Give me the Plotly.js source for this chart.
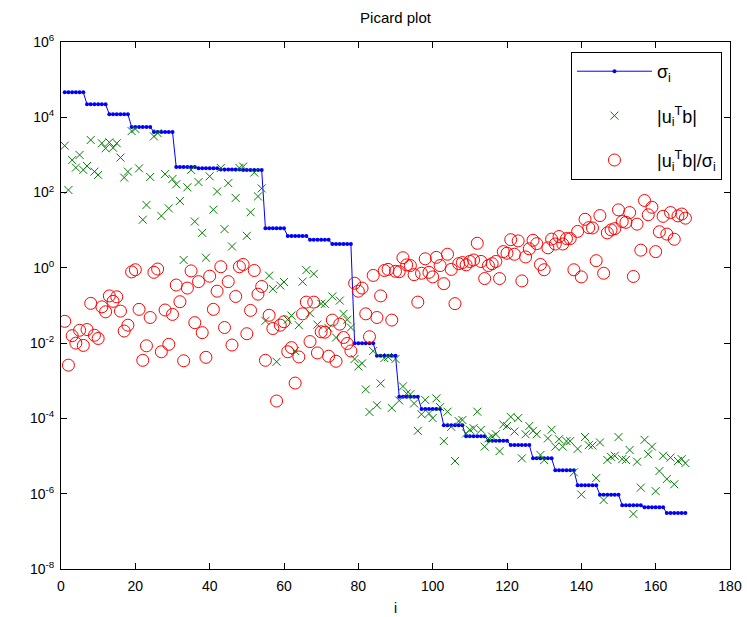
<!DOCTYPE html>
<html>
<head>
<meta charset="utf-8">
<script src="https://cdn.plot.ly/plotly-3.0.1.min.js"></script>
<style>html,body{margin:0;padding:0;background:#fff;}#chart{width:747px;height:617px;}</style>
</head>
<body>
<div id="chart"></div>
<script>
// singular values sigma_i
const sigma = [
4.61e4,4.61e4,4.61e4,4.61e4,4.61e4,4.61e4,
2.21e4,2.21e4,2.21e4,2.21e4,2.21e4,2.21e4,
1.20e4,1.20e4,1.20e4,1.20e4,1.20e4,1.20e4,
5.52e3,5.52e3,5.52e3,5.52e3,5.52e3,5.52e3,
4.06e3,4.06e3,4.06e3,4.06e3,4.06e3,4.06e3,
477,477,477,477,477,477,
442,442,442,442,442,442,
410,410,410,410,410,410,
398,398,398,398,398,398,
11.2,11.2,11.2,11.2,11.2,11.2,
7.01,7.01,7.01,7.01,7.01,7.01,
5.60,5.60,5.60,5.60,5.60,5.60,
4.30,4.30,4.30,4.30,4.30,4.30,
9.89e-3,9.89e-3,9.89e-3,9.89e-3,9.89e-3,9.89e-3,
4.63e-3,4.63e-3,4.63e-3,4.63e-3,4.63e-3,4.63e-3,
3.77e-4,3.77e-4,3.77e-4,3.77e-4,3.77e-4,3.77e-4,
1.78e-4,1.78e-4,1.78e-4,1.78e-4,1.78e-4,1.78e-4,
6.56e-5,6.56e-5,6.56e-5,6.56e-5,6.56e-5,6.56e-5,
3.35e-5,3.35e-5,3.35e-5,3.35e-5,3.35e-5,3.35e-5,
2.56e-5,2.56e-5,2.56e-5,2.56e-5,2.56e-5,2.56e-5,
1.96e-5,1.96e-5,1.96e-5,1.96e-5,1.96e-5,1.96e-5,
8.71e-6,8.71e-6,8.71e-6,8.71e-6,8.71e-6,8.71e-6,
4.18e-6,4.18e-6,4.18e-6,4.18e-6,4.18e-6,4.18e-6,
1.67e-6,1.67e-6,1.67e-6,1.67e-6,1.67e-6,1.67e-6,
9.40e-7,9.40e-7,9.40e-7,9.40e-7,9.40e-7,9.40e-7,
4.91e-7,4.91e-7,4.91e-7,4.91e-7,4.91e-7,4.91e-7,
4.35e-7,4.35e-7,4.35e-7,4.35e-7,4.35e-7,4.35e-7,
3.07e-7,3.07e-7,3.07e-7,3.07e-7,3.07e-7,3.07e-7
];

// |u_i^T b|
const uTb = [
1.76e3,1.17e2,7.3e2,4.6e2,1.0e3,4.0e2,
5.1e2,2.5e3,3.6e2,2.95e2,2.04e3,1.5e3,
2.16e3,1.55e3,2.04e3,8.5e2,2.5e2,3.6e2,
4.3e3,4.9e3,4.4e2,19,47,2.6e2,
3.1e3,3.8e3,24,3.1e2,38,2.3e2,
1.66e2,60,1.62,1.38e2,4.0e2,17,
1.9e2,8.5,1.86,2.7e2,35,1.07e2,
4.5e2,10.7,1.78e2,3.7,72,4.5e2,
4.9e2,7.1,30,3.4e2,79,1.29e2,
3.9e-2,0.62,0.275,3.2e-3,0.34,0.42,
4.2e-2,5.4e-2,6.2e-3,3.0e-2,0.43,0.87,
6.2e-2,0.69,3.1e-2,0.112,0.11,2.5e-2,
0.174,1.41e-2,0.135,6.0e-2,4.2e-2,2.6e-2,
3.8e-3,2.4e-3,2.9e-3,5.9e-4,1.48e-4,6.2e-3,
2.24e-4,8.5e-4,4.0e-3,4.3e-3,1.9e-4,3.8e-3,
3.0e-4,7.1e-4,4.6e-4,4.4e-4,2.5e-4,4.7e-5,
1.29e-4,3.1e-4,1.35e-4,1.02e-4,3.4e-4,2.0e-4,
2.5e-5,1.51e-4,6.0e-5,7.4e-6,8.5e-5,9.1e-5,
4.0e-5,5.0e-5,5.5e-5,1.51e-4,5.0e-5,1.78e-5,
2.95e-5,3.3e-5,3.8e-5,1.35e-5,6.9e-5,6.3e-5,
1.1e-4,4.5e-5,1.02e-4,8.7e-6,3.8e-5,6.3e-5,
4.7e-5,3.8e-5,1.07e-5,7.8e-6,2.95e-5,5.0e-5,
1.78e-5,2.8e-5,1.78e-5,2.5e-5,2.5e-5,3.7e-6,
1.55e-5,9.5e-7,3.2e-5,1.95e-5,1.9e-5,2.6e-6,
2.3e-5,6.8e-7,7.9e-6,9.5e-6,1.02e-5,3.2e-5,
8.3e-6,7.9e-6,1.45e-5,2.9e-7,7.1e-6,1.45e-6,
2.7e-5,1.12e-5,1.78e-5,1.17e-6,4.0e-6,1.02e-5,
2.45e-6,9.1e-6,1.78e-6,7.4e-6,8.3e-6,6.5e-6
];

// |u_i^T b| / sigma_i
const ratio = [
3.8e-2,2.6e-3,1.58e-2,1.0e-2,2.2e-2,8.7e-3,
2.3e-2,0.114,1.62e-2,1.33e-2,9.2e-2,6.8e-2,
0.18,0.129,0.17,7.1e-2,2.1e-2,3.0e-2,
0.78,0.89,7.9e-2,3.5e-3,8.5e-3,4.8e-2,
0.76,0.93,5.9e-3,7.6e-2,9.3e-3,5.8e-2,
0.35,0.126,3.4e-3,0.29,0.83,3.5e-2,
0.43,1.9e-2,4.2e-3,0.60,7.9e-2,0.24,
1.07,2.6e-2,0.43,8.9e-3,0.174,1.07,
1.23,1.78e-2,7.4e-2,0.85,0.20,0.32,
3.5e-3,5.5e-2,2.45e-2,2.9e-4,3.0e-2,3.7e-2,
5.9e-3,7.6e-3,8.7e-4,4.3e-3,6.0e-2,0.123,
1.1e-2,0.123,5.5e-3,2.0e-2,1.95e-2,4.5e-3,
4.1e-2,3.3e-3,3.2e-2,1.41e-2,9.8e-3,6.2e-3,
0.39,0.24,0.29,6.0e-2,1.48e-2,0.63,
4.8e-2,0.18,0.85,0.91,4.1e-2,0.81,
0.79,1.86,1.2,1.15,0.66,0.123,
0.72,1.74,0.76,0.575,1.9,1.15,
0.38,2.3,0.91,0.112,1.29,1.38,
1.2,1.48,1.62,4.5,1.48,0.52,
1.15,1.29,1.48,0.52,2.7,2.45,
5.6,2.3,5.2,0.45,1.95,3.2,
5.4,4.4,1.23,0.89,3.4,5.8,
4.3,6.8,4.3,6.0,6.0,0.89,
9.3,0.575,19.5,11.7,11.5,1.55,
24.5,0.72,8.5,10.2,11,34.7,
17,16.2,29.5,0.59,14.5,2.95,
61.7,25.7,40.7,2.7,9.1,23.4,
7.9,29.5,5.75,24,26.9,20.9
];

// y-axis tick positions and labels
const yTickVals = [1e-8, 1e-6, 1e-4, 1e-2, 1, 1e2, 1e4, 1e6];
const yTickText = ['10<sup>-8</sup>', '10<sup>-6</sup>', '10<sup>-4</sup>', '10<sup>-2</sup>',
                   '10<sup>0</sup>', '10<sup>2</sup>', '10<sup>4</sup>', '10<sup>6</sup>'];

const idx = Array.from({length: sigma.length}, (_, k) => k + 1);

const font = "Liberation Sans, Arial, sans-serif";

const traces = [
  {x: idx, y: sigma, type: 'scatter', mode: 'lines+markers', name: 'σ<sub>i</sub>', legendgroup: 'a',
   line: {color: '#0000ff', width: 1}, marker: {color: '#0000ff', size: 4, symbol: 'circle'}},
  {x: idx, y: uTb, type: 'scatter', mode: 'markers', name: '|u<sub>i</sub><sup>T</sup>b|', legendgroup: 'b',
   marker: {color: '#008000', size: 8, symbol: 'x-thin-open', line: {color: '#008000', width: 1}}},
  {x: idx, y: ratio, type: 'scatter', mode: 'markers', name: '|u<sub>i</sub><sup>T</sup>b|/σ<sub>i</sub>', legendgroup: 'c',
   marker: {color: '#ff0000', size: 12, symbol: 'circle-open', line: {color: '#ff0000', width: 1}}}
];

const layout = {
  width: 747, height: 617,
  margin: {l: 61, r: 17, t: 42, b: 48},
  paper_bgcolor: '#fff', plot_bgcolor: '#fff',
  font: {family: font, size: 14, color: '#000'},
  title: {text: 'Picard plot', x: 0.5, xref: 'paper', y: 1 - 18/617, yref: 'container', yanchor: 'middle', font: {size: 15, family: font}},
  xaxis: {range: [0, 180], dtick: 20, tick0: 0, ticks: 'inside', ticklen: 6, tickcolor: '#000',
          showline: true, linecolor: '#000', linewidth: 1, mirror: 'allticks', showgrid: false, zeroline: false,
          ticklabelstandoff: 4,
          title: {text: 'i', standoff: 10, font: {size: 14}}},
  yaxis: {type: 'log', range: [-8, 6], tickvals: yTickVals, ticktext: yTickText, ticks: 'inside', ticklen: 6, tickcolor: '#000',
          showline: true, linecolor: '#000', linewidth: 1, mirror: 'allticks',
          showgrid: false, zeroline: false, ticklabelstandoff: 3},
  showlegend: true,
  legend: {x: 0.988, xanchor: 'right', y: 0.981, yanchor: 'top', bgcolor: '#fff',
           bordercolor: '#000', borderwidth: 1, font: {size: 18, family: font},
           tracegroupgap: 18, itemwidth: 75}
};

Plotly.newPlot('chart', traces, layout, {displayModeBar: false, staticPlot: true});
</script>
</body>
</html>
